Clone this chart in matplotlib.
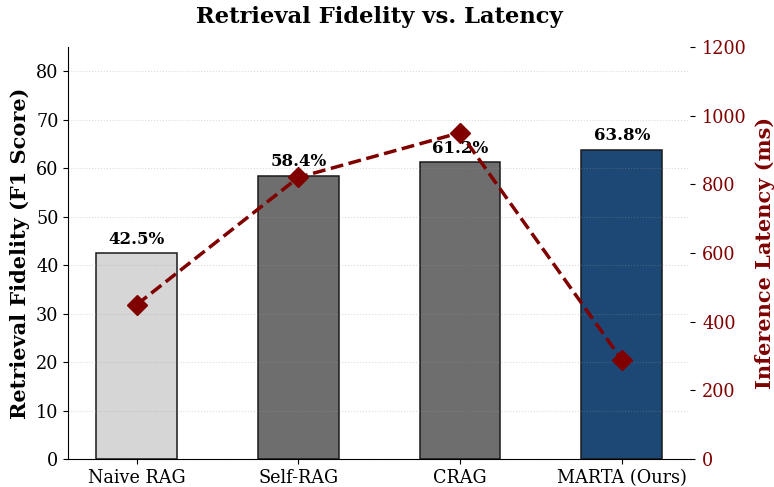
import numpy as np
import matplotlib.pyplot as plt

plt.rcParams['font.family'] = 'DejaVu Serif'

methods = ["Naive RAG", "Self-RAG", "CRAG", "MARTA (Ours)"]
fidelity = [42.5, 58.4, 61.2, 63.8]
latency = [450, 820, 950, 290]
bar_colors = ["#d6d6d6", "#6e6e6e", "#6e6e6e", "#1d4876"]

fig, ax = plt.subplots(figsize=(7.74, 4.87), dpi=100)
x = np.arange(len(methods))

ax.bar(x, fidelity, width=0.5, color=bar_colors, edgecolor="#1a1a1a", linewidth=1.1)
for xi, v in zip(x, fidelity):
    ax.text(xi, v + 1.1, f"{v}%", ha="center", va="bottom", fontsize=12, fontweight="bold")

ax.set_ylim(0, 85)
ax.set_xticks(x)
ax.set_xticklabels(methods, fontsize=12.7)
ax.tick_params(axis="y", labelsize=12.7)
ax.set_ylabel("Retrieval Fidelity (F1 Score)", fontsize=15, fontweight="bold")
ax.grid(axis="y", linestyle=":", color="#999999", alpha=0.35, linewidth=0.8)
ax.spines["top"].set_visible(False)
ax.spines["right"].set_visible(False)

ax2 = ax.twinx()
lat_color = "#800000"
ax2.plot(x, latency, color=lat_color, linestyle="--", linewidth=2.5, marker="D", markersize=10)
ax2.set_ylim(0, 1200)
ax2.set_ylabel("Inference Latency (ms)", fontsize=15, fontweight="bold", color=lat_color, labelpad=6)
ax2.tick_params(axis="y", labelsize=12.7, labelcolor=lat_color, pad=5)
for s in ["top", "right", "left", "bottom"]:
    ax2.spines[s].set_visible(False)

ax.set_title("Retrieval Fidelity vs. Latency", fontsize=16.3, fontweight="bold", pad=17)

fig.subplots_adjust(left=0.088, right=0.892, top=0.904, bottom=0.057)
fig.savefig("out.png", dpi=100)
